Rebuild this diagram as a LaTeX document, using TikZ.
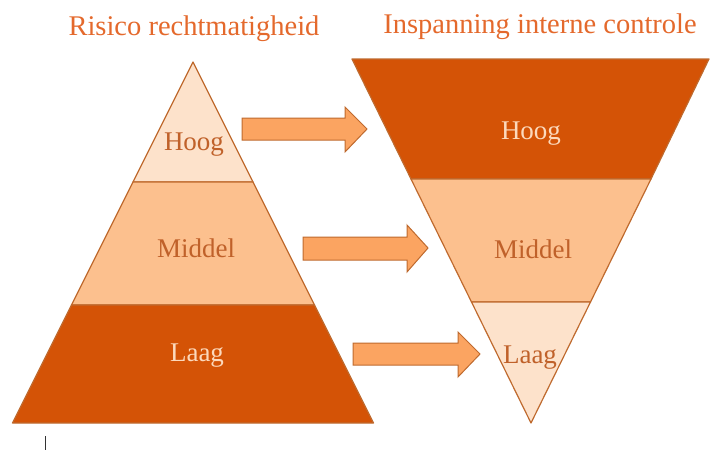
\documentclass[tikz,border=0pt]{standalone}
\usepackage{fontspec}
\setmainfont{Liberation Serif}
\usepackage{tikz}
\usetikzlibrary{calc}
\definecolor{darkband}{HTML}{D45306}
\definecolor{midband}{HTML}{FCC08E}
\definecolor{lightband}{HTML}{FDE2CB}
\definecolor{arrowfill}{HTML}{FBA461}
\definecolor{edgeline}{HTML}{BF6A2E}
\definecolor{titleclr}{HTML}{E4692C}
\definecolor{labelclr}{HTML}{C0612A}
\definecolor{labellight}{HTML}{FCD9BC}
\tikzset{band/.style={draw=edgeline,line width=1.2pt,line join=round},
	blockarrow/.style={fill=arrowfill,draw=edgeline,line width=1pt,line join=miter},
	bandlabel/.style={font=\fontsize{27}{27}\selectfont,text=labelclr},
	darklabel/.style={font=\fontsize{27}{27}\selectfont,text=labellight},
	title/.style={font=\fontsize{28.5}{28.5}\selectfont,text=titleclr}}
\begin{document}
\begin{tikzpicture}[x=1pt,y=-1pt]
		\useasboundingbox (0,0) rectangle (710,450);
		% linker piramide
		\draw[band,fill=lightband] (193,62)-- (253,182)-- (133,182)-- cycle;
		\draw[band,fill=midband] (133,182)-- (253,182)-- (314.5,305)-- (71.5,305)-- cycle;
		\draw[band,fill=darkband] (71.5,305)-- (314.5,305)-- (373.5,423)-- (12.5,423)-- cycle;
		% rechter piramide
		\draw[band,fill=darkband] (352,59)-- (709,59)-- (651,179)-- (411,179)-- cycle;
		\draw[band,fill=midband] (411,179)-- (651,179)-- (590.5,302)-- (471.5,302)-- cycle;
		\draw[band,fill=lightband] (471.5,302)-- (590.5,302)-- (531,423)-- cycle;
		% pijlen
		\draw[blockarrow] (242,118)-- (345,118)-- (345,107)-- (367,129)-- (345,152)-- (345,140)-- (242,140)-- cycle;
		\draw[blockarrow] (303,237)-- (407,237)-- (407,225)-- (428,248)-- (407,272)-- (407,260)-- (303,260)-- cycle;
		\draw[blockarrow] (353,343)-- (458,343)-- (458,332)-- (480,354)-- (458,377)-- (458,365)-- (353,365)-- cycle;
		% teksten
		\node[title] (risico) at (194,29) {Risico rechtmatigheid};
		\node[title] (inspanning) at (540,27) {Inspanning interne controle};
		\node[bandlabel] (lhoog) at (194,145) {Hoog};
		\node[bandlabel] (lmiddel) at (196,248) {Middel};
		\node[darklabel] (llaag) at (197,356) {Laag};
		\node[darklabel] (rhoog) at (531,134) {Hoog};
		\node[bandlabel] (rmiddel) at (533,249) {Middel};
		\node[bandlabel] (rlaag) at (530,358) {Laag};
		\draw[black!80,line width=1pt] (45,436)-- (45,450);
\end{tikzpicture}
\end{document}
